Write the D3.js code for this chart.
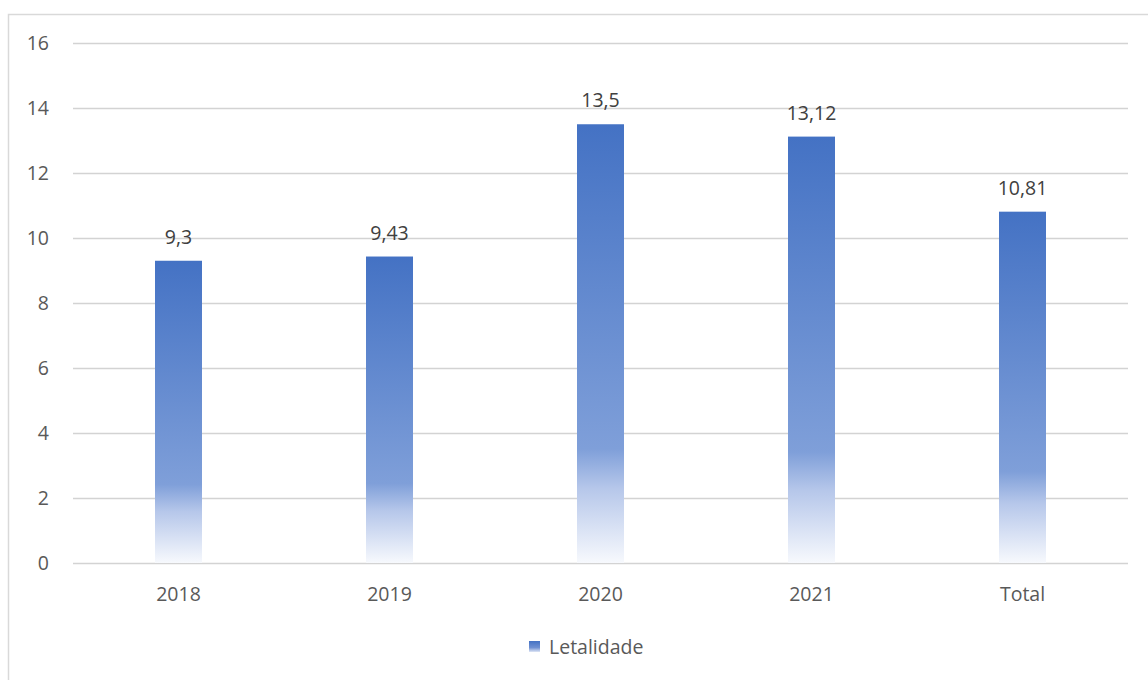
<!DOCTYPE html>
<html><head><meta charset="utf-8">
<script src="https://cdn.jsdelivr.net/npm/d3@7"></script>
<style>body{margin:0;background:#fff;}svg{display:block;font-family:"Open Sans",sans-serif;}</style>
</head><body><svg id="c" width="1148" height="680"></svg>
<script>
const categories = ["2018","2019","2020","2021","Total"];
const values = [9.3, 9.43, 13.5, 13.12, 10.81];
const valueLabels = ["9,3","9,43","13,5","13,12","10,81"];
const yTicks = [0,2,4,6,8,10,12,14,16];
const seriesName = "Letalidade";
const FONT = "Open Sans";
const FS = 19.5;

const svg = d3.select("#c");
svg.append("rect").attr("x",8.5).attr("y",14.5).attr("width",1160).attr("height",700)
  .attr("fill","#fff").attr("stroke","#d9d9d9").attr("stroke-width",1.5);

const x = d3.scaleBand().domain(categories).range([73,1128]).paddingInner(0).paddingOuter(0);
const y = d3.scaleLinear().domain([0,16]).range([563,43]);

const defs = svg.append("defs");
const g = defs.append("linearGradient").attr("id","grad").attr("x1",0).attr("y1",0).attr("x2",0).attr("y2",1);
[[0,"#4472C4"],[0.74,"#7f9fd9"],[0.83,"#b6c7ea"],[1,"#f7f9fd"]].forEach(s=>g.append("stop").attr("offset",s[0]).attr("stop-color",s[1]));

svg.append("g").selectAll("line").data(yTicks).join("line")
  .attr("x1",73).attr("x2",1128).attr("y1",d=>y(d)+0.5).attr("y2",d=>y(d)+0.5)
  .attr("stroke","#d3d3d3").attr("stroke-width",1.3);

const yAxis = d3.axisLeft(y).tickValues(yTicks).tickSize(0).tickPadding(0);
const ya = svg.append("g").attr("transform","translate(49,0)").call(yAxis);
ya.select(".domain").remove();
ya.selectAll("text").attr("font-size",FS).attr("fill","#595959").attr("text-anchor","end").attr("dy","0.35em").attr("font-family",FONT);

const xAxis = d3.axisBottom(x).tickSize(0).tickPadding(0);
const xa = svg.append("g").attr("transform","translate(0,583)").call(xAxis);
xa.select(".domain").remove();
xa.selectAll("text").attr("font-size",FS).attr("fill","#595959").attr("dy","0.35em").attr("y",11).attr("font-family",FONT);

const bw = 47;
svg.append("g").selectAll("rect").data(values).join("rect")
  .attr("x",(d,i)=>x(categories[i])+x.bandwidth()/2-bw/2)
  .attr("width",bw)
  .attr("y",d=>y(d))
  .attr("height",d=>y(0)-y(d))
  .attr("fill","url(#grad)");

svg.append("g").selectAll("text").data(values).join("text")
  .attr("x",(d,i)=>x(categories[i])+x.bandwidth()/2)
  .attr("y",d=>y(d)-17)
  .attr("text-anchor","middle").attr("font-size",FS).attr("fill","#404040").attr("font-family",FONT)
  .text((d,i)=>valueLabels[i]);

const lgr = defs.append("linearGradient").attr("id","lgrad").attr("x1",0).attr("y1",0).attr("x2",0).attr("y2",1);
[[0,"#4472C4"],[0.6,"#6f90d2"],[1,"#dfe6f5"]].forEach(s=>lgr.append("stop").attr("offset",s[0]).attr("stop-color",s[1]));
const lg = svg.append("g");
lg.append("rect").attr("x",529).attr("y",641).attr("width",11).attr("height",11).attr("fill","url(#lgrad)");
lg.append("text").attr("x",549).attr("y",647).attr("dy","0.35em").attr("font-size",FS).attr("fill","#595959").attr("font-family",FONT).text(seriesName);
</script></body></html>
